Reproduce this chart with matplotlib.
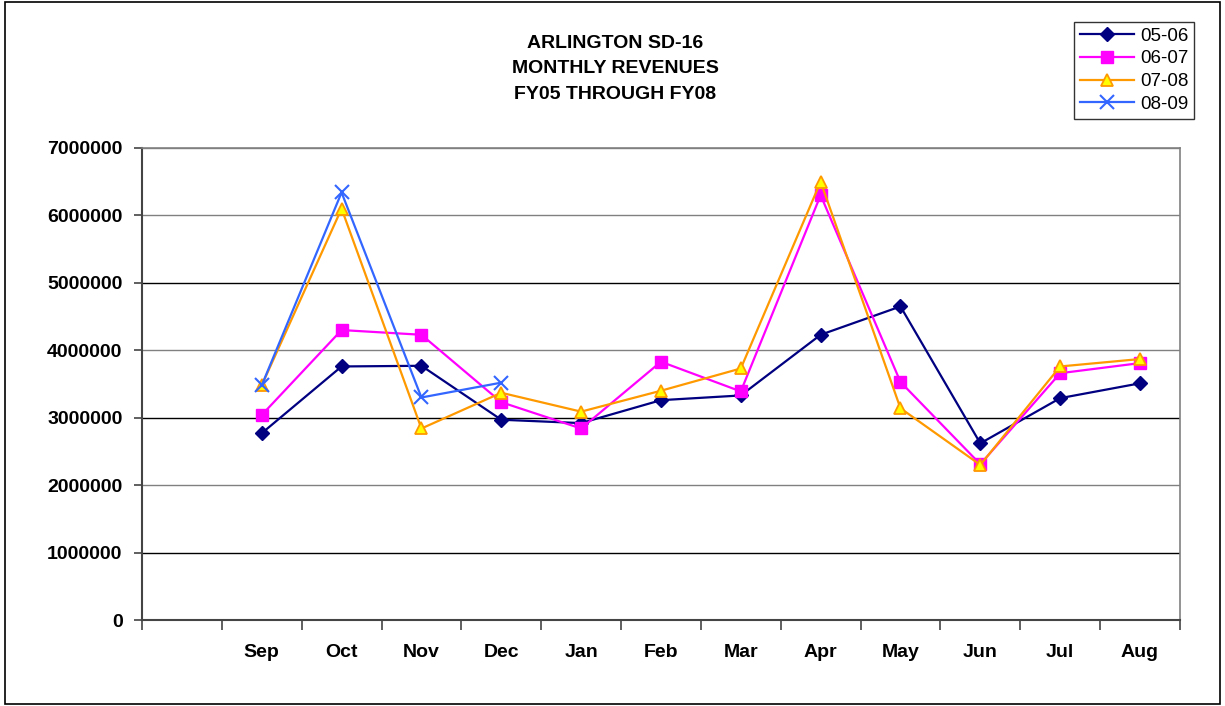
import matplotlib.pyplot as plt
from matplotlib.patches import Rectangle

months = ['', 'Sep', 'Oct', 'Nov', 'Dec', 'Jan', 'Feb', 'Mar', 'Apr', 'May', 'Jun', 'Jul', 'Aug']

fy0506 = [None, 2770000, 3760000, 3770000, 2970000, 2920000, 3260000, 3330000, 4230000, 4650000, 2620000, 3290000, 3510000]
fy0607 = [None, 3040000, 4300000, 4230000, 3230000, 2840000, 3830000, 3390000, 6300000, 3530000, 2310000, 3660000, 3810000]
fy0708 = [None, 3480000, 6100000, 2840000, 3370000, 3090000, 3400000, 3730000, 6500000, 3140000, 2300000, 3760000, 3870000]
fy0809 = [None, 3480000, 6340000, 3300000, 3520000]

yticks = [0, 1000000, 2000000, 3000000, 4000000, 5000000, 6000000, 7000000]
grid_colors = ['black', 'black', 'gray', 'black', 'gray', 'black', 'gray', 'gray']


def clean(vals):
	xs = [i for i, v in enumerate(vals) if v is not None]
	ys = [v for v in vals if v is not None]
	return xs, ys


def main():
	plt.rcParams['font.family'] = ['Liberation Sans', 'DejaVu Sans']

	fig = plt.figure(figsize=(12.25, 7.06), dpi=100)
	fig.patches.append(Rectangle((0.004, 0.003), 0.992, 0.994, transform=fig.transFigure,
		fill=False, edgecolor='black', linewidth=1.2))

	ax = fig.add_axes([0.1159, 0.1218, 0.8473, 0.6686])

	styles = [
		(fy0506, '05-06', dict(color='#000080', marker='D', markersize=7, markerfacecolor='#000080', markeredgecolor='#000080')),
		(fy0607, '06-07', dict(color='#FF00FF', marker='s', markersize=9, markerfacecolor='#FF00FF', markeredgecolor='#FF00FF')),
		(fy0708, '07-08', dict(color='#FF9900', marker='^', markersize=9, markerfacecolor='#FFFF00', markeredgecolor='#FF9900', markeredgewidth=1.3)),
		(fy0809, '08-09', dict(color='#3366FF', marker='x', markersize=10, markeredgewidth=1.5)),
	]
	for vals, label, kw in styles:
		xs, ys = clean(vals)
		ax.plot(xs, ys, linewidth=1.6, label=label, zorder=3, **kw)

	for y, c in zip(yticks[1:], grid_colors[1:]):
		ax.axhline(y, color=c, linewidth=1.0, zorder=1)

	ax.set_xlim(-0.5, len(months) - 0.5)
	ax.set_ylim(0, 7000000)
	ax.set_yticks(yticks)
	ax.set_yticklabels([str(v) for v in yticks], fontsize=14, fontweight='bold')
	ax.set_xticks(range(len(months)))
	ax.set_xticklabels(months, fontsize=14, fontweight='bold')
	ax.set_xticks([i - 0.5 for i in range(len(months) + 1)], minor=True)
	ax.tick_params(axis='x', which='major', length=0, pad=17)
	ax.tick_params(axis='x', which='minor', length=7, width=1.2, color='#444444')
	ax.tick_params(axis='y', length=6, width=1.2, color='#444444', pad=8)

	for side in ['left', 'bottom']:
		ax.spines[side].set_color('#444444')
		ax.spines[side].set_linewidth(1.5)
	for side in ['top', 'right']:
		ax.spines[side].set_color('gray')
		ax.spines[side].set_linewidth(1.2)

	fig.text(0.502, 0.951, 'ARLINGTON SD-16\nMONTHLY REVENUES\nFY05 THROUGH FY08',
		ha='center', va='top', fontsize=14, fontweight='bold', linespacing=1.68)

	leg = fig.legend(loc='upper left', bbox_to_anchor=(0.877, 0.969), fontsize=13.5,
		frameon=True, fancybox=False, edgecolor='black', borderpad=0.3,
		labelspacing=0.3, handlelength=2.9, handletextpad=0.3, borderaxespad=0)
	leg.get_frame().set_linewidth(1.0)

	fig.savefig('out.png', dpi=100)


if __name__ == '__main__':
	main()
